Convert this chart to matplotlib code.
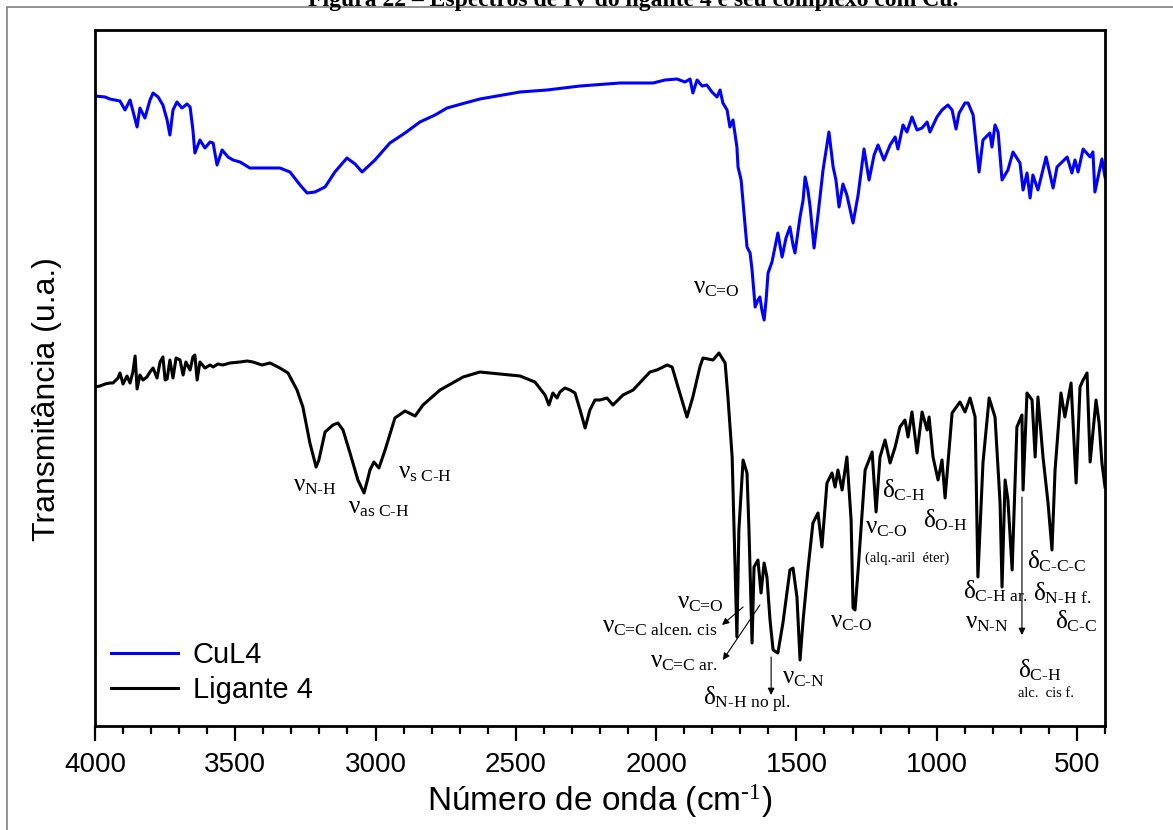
import matplotlib
matplotlib.use('Agg')
import matplotlib.pyplot as plt
import numpy as np
from matplotlib.patches import Rectangle
from matplotlib.ticker import MultipleLocator

plt.rcParams['font.family'] = ['Liberation Sans', 'DejaVu Sans']
plt.rcParams['mathtext.fontset'] = 'custom'
plt.rcParams['mathtext.rm'] = 'Liberation Serif'
plt.rcParams['mathtext.it'] = 'Liberation Serif'
plt.rcParams['mathtext.bf'] = 'Liberation Serif:bold'

# CuL4 complex: wavenumber (cm-1) and transmittance (a.u., already offset)
cul4_wn = np.array([
    4000, 3964, 3947, 3911, 3893, 3875, 3850, 3840, 3822, 3804, 3793, 3775, 3758, 3743,
    3733, 3722, 3708, 3690, 3672, 3661, 3651, 3644, 3626, 3608, 3590, 3579, 3565, 3547,
    3526, 3508, 3483, 3448, 3394, 3341, 3305, 3269, 3244, 3216, 3180, 3145, 3102, 3073,
    3048, 3002, 2949, 2895, 2842, 2788, 2745, 2681, 2628, 2485, 2389, 2271, 2129, 2011,
    1968, 1926, 1897, 1879, 1869, 1854, 1836, 1819, 1801, 1783, 1772, 1762, 1747, 1737,
    1726, 1712, 1708, 1697, 1690, 1683, 1676, 1665, 1658, 1647, 1637, 1630, 1623, 1615,
    1608, 1601, 1587, 1576, 1566, 1551, 1537, 1523, 1512, 1505, 1487, 1476, 1469, 1459,
    1451, 1437, 1423, 1405, 1394, 1384, 1369, 1359, 1348, 1334, 1320, 1298, 1280, 1259,
    1241, 1223, 1209, 1188, 1166, 1148, 1138, 1120, 1106, 1088, 1070, 1052, 1034, 1024,
    999, 981, 960, 945, 931, 920, 899, 888, 870, 849, 835, 810, 803, 792, 781, 767, 746,
    728, 703, 692, 678, 667, 657, 639, 610, 585, 571, 535, 518, 507, 496, 478, 453, 443,
    436, 411, 400])
cul4_t = np.array([
    630, 629, 627, 625, 616, 626, 599, 618, 608, 626, 633, 629, 621, 606,
    591, 616, 624, 618, 622, 619, 596, 573, 586, 578, 584, 583, 561, 576,
    569, 566, 564, 558, 558, 558, 554, 541, 533, 534, 539, 554, 568, 562,
    554, 566, 583, 593, 604, 611, 618, 623, 627, 634, 636, 640, 643, 643,
    646, 647, 644, 647, 633, 646, 640, 641, 634, 629, 636, 623, 616, 599,
    606, 579, 559, 546, 523, 501, 479, 473, 456, 419, 426, 429, 416, 406,
    426, 453, 464, 479, 493, 469, 488, 499, 481, 473, 509, 526, 549, 536,
    519, 478, 511, 556, 576, 594, 559, 546, 519, 542, 531, 503, 531, 577,
    546, 571, 581, 566, 581, 589, 577, 601, 594, 609, 596, 598, 604, 594,
    609, 616, 621, 616, 597, 613, 623, 623, 611, 554, 586, 593, 579, 601, 594, 546, 556,
    574, 563, 536, 553, 528, 551, 536, 569, 538, 559, 569, 553, 566, 554, 577, 569, 574,
    534, 567, 549])

# Ligante 4: wavenumber (cm-1) and transmittance (a.u.)
lig_wn = np.array([
    4000, 3982, 3964, 3947, 3936, 3918, 3911, 3900, 3886, 3875, 3865, 3857, 3850, 3840,
    3829, 3815, 3804, 3793, 3779, 3768, 3758, 3750, 3743, 3733, 3722, 3711, 3697, 3686,
    3676, 3661, 3651, 3644, 3636, 3626, 3608, 3590, 3579, 3562, 3544, 3519, 3483, 3458,
    3437, 3405, 3376, 3341, 3312, 3280, 3259, 3234, 3212, 3202, 3180, 3152, 3134, 3116,
    3091, 3063, 3041, 3027, 3020, 3006, 2988, 2966, 2931, 2895, 2859, 2831, 2770, 2688,
    2628, 2556, 2485, 2432, 2396, 2382, 2368, 2353, 2343, 2325, 2307, 2289, 2271, 2253,
    2236, 2218, 2200, 2175, 2154, 2118, 2082, 2022, 1997, 1961, 1943, 1922, 1890, 1869,
    1844, 1833, 1797, 1776, 1754, 1744, 1729, 1719, 1712, 1705, 1690, 1676, 1669, 1658,
    1651, 1637, 1626, 1615, 1605, 1594, 1583, 1566, 1548, 1523, 1512, 1498, 1487, 1476,
    1459, 1441, 1423, 1409, 1391, 1373, 1362, 1352, 1337, 1320, 1305, 1298, 1291, 1280,
    1255, 1230, 1216, 1202, 1184, 1166, 1148, 1131, 1113, 1102, 1088, 1070, 1052, 1034,
    1027, 1013, 995, 981, 970, 945, 917, 899, 881, 863, 853, 835, 813, 792, 774, 767,
    756, 746, 731, 714, 696, 692, 678, 660, 649, 639, 621, 603, 589, 578, 557, 543,
    521, 503, 489, 478, 464, 453, 432, 421, 411, 400])
lig_t = np.array([
    339, 340, 342, 343, 343, 348, 353, 342, 350, 343, 354, 370, 337, 351,
    346, 349, 354, 358, 348, 364, 369, 346, 347, 366, 348, 368, 366, 351,
    364, 356, 369, 371, 346, 364, 358, 361, 359, 362, 361, 363, 364, 365,
    364, 361, 363, 358, 353, 336, 319, 283, 259, 266, 294, 301, 303, 296,
    273, 246, 233, 248, 256, 264, 258, 276, 308, 315, 310, 321, 336, 349,
    354, 352, 350, 344, 331, 321, 333, 328, 334, 338, 336, 333, 316, 298,
    316, 326, 326, 328, 321, 331, 336, 354, 356, 361, 359, 339, 309, 329,
    359, 368, 366, 373, 363, 329, 269, 163, 89, 196, 266, 253, 196, 83,
    159, 166, 133, 163, 149, 106, 76, 73, 103, 156, 158, 129, 66, 106,
    156, 203, 213, 179, 243, 253, 239, 256, 236, 269, 206, 118, 116, 156,
    256, 274, 214, 269, 286, 263, 279, 299, 306, 289, 314, 273, 314, 296,
    309, 269, 246, 266, 228, 313, 324, 314, 328, 309, 149, 263, 328, 309, 223, 139,
    246, 226, 156, 299, 311, 236, 333, 326, 269, 329, 269, 223, 176, 256, 333, 309,
    343, 243, 339, 346, 353, 264, 326, 303, 263, 239])

# band assignments: (text, wavenumber, transmittance) anchored at the text baseline
band_labels = [
    (r'$\nu_{\text{C=O}}$', 1869, 433),
    (r'$\nu_{\text{N-H}}$', 3294, 235),
    (r'$\nu_{\text{as C-H}}$', 3098, 213),
    (r'$\nu_{\text{s C-H}}$', 2920, 248),
    (r'$\nu_{\text{C=O}}$', 1926, 118),
    (r'$\nu_{\text{C=C ar.}}$', 2022, 59),
    (r'$\delta_{\text{N-H no pl.}}$', 1833, 21),
    (r'$\nu_{\text{C-N}}$', 1551, 43),
    (r'$\nu_{\text{C-O}}$', 1380, 99),
    (r'$\delta_{\text{C-H}}$', 1195, 229),
    (r'$\delta_{\text{O-H}}$', 1049, 199),
    (r'$\nu_{\text{C-O}}$', 1255, 193),
    (r'$\delta_{\text{C-H ar.}}$', 906, 128),
    (r'$\nu_{\text{N-N}}$', 899, 98),
    (r'$\delta_{\text{C-H}}$', 710, 49),
    (r'$\delta_{\text{C-C-C}}$', 678, 158),
    (r'$\delta_{\text{N-H f.}}$', 657, 126),
    (r'$\delta_{\text{C-C}}$', 578, 98),
]
# right-aligned label
alcen_label = (r'$\nu_{\text{C=C alcen. cis}}$', 1783, 94)
small_notes = [('(alq.-aril  éter)', 1255, 164), ('alc.  cis f.', 710, 29)]
# arrows: (start, end)
arrows = [((1690, 119), (1765, 101)),
          ((1630, 121), (1762, 66)),
          ((1590, 69), (1590, 31)),
          ((696, 229), (696, 91))]

W, H = 1173, 830
fig = plt.figure(figsize=(W / 100, H / 100), dpi=100)
fig.patch.set_facecolor('white')

# page frame and caption cut by the top edge
fig.add_artist(Rectangle((7 / W, -0.5), 2, 1.5 - 7 / H, transform=fig.transFigure,
                         fill=False, edgecolor='#808080', lw=1.2))
fig.text(0.54, 1 - 6 / H, 'Figura 22 – Espectros de IV do ligante 4 e seu complexo com Cu.',
         ha='center', va='baseline', fontsize=17, fontweight='bold',
         family=['Liberation Serif', 'DejaVu Serif'])

ax = fig.add_axes([95 / W, 1 - 726 / H, 1010 / W, 696 / H])
ax.plot(cul4_wn, cul4_t, color='#0000ff', lw=2.2, label='CuL4')
ax.plot(lig_wn, lig_t, color='black', lw=2.2, label='Ligante 4')

ax.set_xlim(4000, 400)
ax.set_ylim(0, 696)
ax.xaxis.set_major_locator(MultipleLocator(500))
ax.xaxis.set_minor_locator(MultipleLocator(100))
ax.tick_params(axis='x', which='major', direction='out', length=11, width=1.6,
               labelsize=20, pad=8)
ax.tick_params(axis='x', which='minor', direction='out', length=6, width=1.6)
ax.tick_params(axis='y', left=False, labelleft=False)
for s in ax.spines.values():
    s.set_linewidth(2.0)

ax.set_xlabel('Número de onda (cm$^{\\text{-1}}$)', fontsize=24, labelpad=3,
              family=['Liberation Sans', 'DejaVu Sans'])
ax.set_ylabel('Transmitância (u.a.)', fontsize=23)
ax.yaxis.set_label_coords(-0.033, 0.47)

serif = ['Liberation Serif', 'DejaVu Serif']
for txt, x, y in band_labels:
    ax.text(x, y, txt, fontsize=18, ha='left', va='baseline')
ax.text(alcen_label[1], alcen_label[2], alcen_label[0], fontsize=18, ha='right', va='baseline')
for txt, x, y in small_notes:
    ax.text(x, y, txt, fontsize=10.5, ha='left', va='baseline', family=serif)
for (x0, y0), (x1, y1) in arrows:
    ax.annotate('', xy=(x1, y1), xytext=(x0, y0),
                arrowprops=dict(arrowstyle='-|>', color='black', lw=0.8,
                                mutation_scale=10, shrinkA=0, shrinkB=0))

ax.legend(loc='upper left', bbox_to_anchor=(0.016, 0.122), fontsize=21, frameon=False,
          handlelength=2.3, handletextpad=0.5, labelspacing=0.25, borderpad=0,
          borderaxespad=0)

fig.savefig('out.png', dpi=100)
